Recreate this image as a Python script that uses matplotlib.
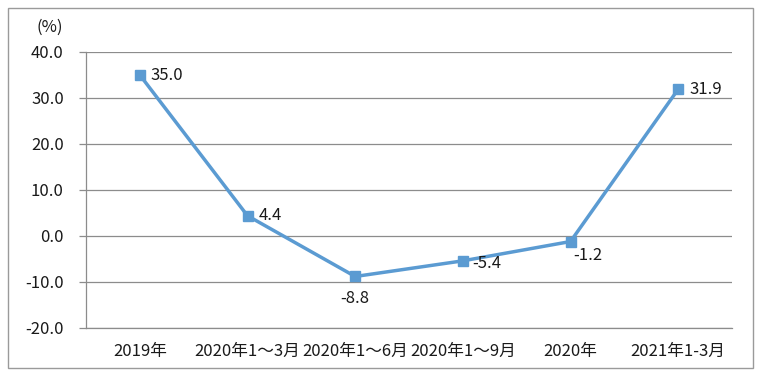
import matplotlib

matplotlib.use("Agg")

import matplotlib.pyplot as plt
from matplotlib.patches import Rectangle

plt.rcParams["font.family"] = ["Noto Sans CJK SC", "DejaVu Sans"]

categories = ["2019年", "2020年1～3月", "2020年1～6月", "2020年1～9月", "2020年", "2021年1-3月"]
values = [35.0, 4.4, -8.8, -5.4, -1.2, 31.9]
y_ticks = [-20, -10, 0, 10, 20, 30, 40]

# label offsets in points (dx, dy) and alignment
LABEL_OFFSETS = [(8, 0, "left"), (8, 0, "left"), (0, -16, "center"), (7, -2, "left"), (2, -10, "left"), (8, 0, "left")]

LINE_COLOR = "#5B9BD2"
GRID_COLOR = "#8C8C8C"
TEXT_COLOR = "#1A1A1A"
FS = 12


def main():
    fig = plt.figure(figsize=(7.68, 3.78), dpi=100)
    fig.patches.append(
        Rectangle((8 / 768, 1 - 368 / 378), 745 / 768, 360 / 378, transform=fig.transFigure,
                  facecolor="none", edgecolor="#9A9A9A", linewidth=1.0)
    )
    ax = fig.add_axes([86 / 768, 1 - 328 / 378, 646 / 768, 276 / 378])

    xs = [i + 0.5 for i in range(len(categories))]
    ax.plot(xs, values, color=LINE_COLOR, linewidth=2.5, marker="s", markersize=6.5,
            markerfacecolor=LINE_COLOR, markeredgecolor=LINE_COLOR, zorder=4)

    for x, v, (dx, dy, ha) in zip(xs, values, LABEL_OFFSETS):
        ax.annotate(f"{v:.1f}", (x, v), xytext=(dx, dy), textcoords="offset points",
                    ha=ha, va="center", fontsize=FS, color=TEXT_COLOR, zorder=5)

    ax.set_xlim(0, len(categories))
    ax.set_ylim(-20, 40)
    ax.set_yticks(y_ticks)
    ax.set_yticklabels([f"{t:.1f}" for t in y_ticks], fontsize=FS, color=TEXT_COLOR)
    ax.set_xticks(xs)
    ax.set_xticklabels(categories, fontsize=FS, color=TEXT_COLOR)
    ax.tick_params(axis="x", length=0, pad=11)
    ax.tick_params(axis="y", length=5, width=0.9, color=GRID_COLOR, pad=11)

    ax.grid(axis="y", color=GRID_COLOR, linewidth=0.9)
    ax.axhline(-20, color=GRID_COLOR, linewidth=0.9, clip_on=False, zorder=1)
    ax.set_axisbelow(True)
    for side in ("top", "right", "bottom"):
        ax.spines[side].set_visible(False)
    ax.spines["left"].set_color(GRID_COLOR)
    ax.spines["left"].set_linewidth(0.9)

    fig.text(50 / 768, 1 - 27 / 378, "(%)", ha="center", va="center", fontsize=FS, color=TEXT_COLOR)

    fig.savefig("out.png", dpi=100)


if __name__ == "__main__":
    main()
